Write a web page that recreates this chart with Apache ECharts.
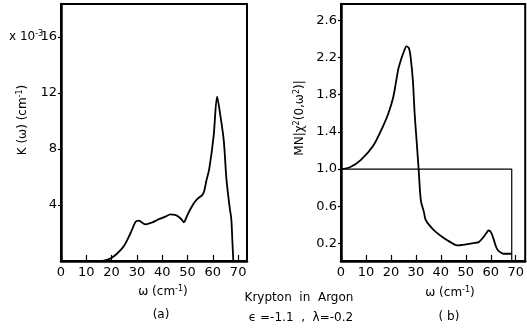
<!DOCTYPE html>
<html>
<head>
<meta charset="utf-8">
<script src="https://cdn.jsdelivr.net/npm/echarts@6/dist/echarts.min.js"></script>
<style>
  html, body { margin: 0; padding: 0; background: #fff; }
  #chart { width: 527px; height: 332px; }
</style>
</head>
<body>
<div id="chart"></div>
<script>
// Panel (a): absorption coefficient K(ω), in units of 1e-3 cm^-1
const omegaA = [15, 17, 19.6, 22, 24.8, 27.5, 29.5, 30.8, 32, 33.4, 36, 38, 41, 43.3, 45, 46.2, 47.5, 48.6, 49.5, 50.6, 52.5, 54, 55.8, 56.6, 57.4, 58.6, 60.3, 61.7, 62.8, 64.3, 65.4, 66.7, 67.3, 67.7, 68.1];
const kA =     [0, 0.03, 0.19, 0.5, 1.05, 2.0, 2.8, 2.88, 2.75, 2.62, 2.75, 2.93, 3.15, 3.33, 3.3, 3.2, 3.0, 2.76, 3.1, 3.52, 4.12, 4.45, 4.71, 5.0, 5.7, 6.6, 8.9, 11.74, 10.6, 8.64, 5.8, 3.76, 3.0, 1.5, 0];

// Panel (b): MN|χ²(0,ω²)|
const omegaB = [0, 3.6, 8, 12.9, 17, 19, 20.9, 22, 23, 24.2, 25.3, 26.2, 27.2, 27.9, 28.8, 29.5, 30.3, 31.1, 32, 33.2, 34, 37, 40.6, 43.5, 46.5, 50, 53, 55.2, 57.1, 58.2, 59.1, 60.1, 61.1, 62.2, 63.1, 64.2, 65.1, 68.4];
const chiB =   [1.0, 1.02, 1.1, 1.25, 1.47, 1.6, 1.77, 1.93, 2.08, 2.19, 2.27, 2.32, 2.3, 2.2, 1.95, 1.6, 1.3, 1.0, 0.66, 0.54, 0.45, 0.35, 0.27, 0.22, 0.18, 0.19, 0.205, 0.215, 0.27, 0.31, 0.34, 0.32, 0.25, 0.16, 0.12, 0.1, 0.09, 0.09];

// Reference step: unity up to the cutoff frequency
const stepOmega = [0, 68.4, 68.4];
const stepValue = [1.0, 1.0, 0];

// Tick values
const xTicks = [0, 10, 20, 30, 40, 50, 60, 70];
const yTicksA = [4, 8, 12, 16];
const yTicksB = [0.2, 0.6, 1.0, 1.4, 1.8, 2.2, 2.6];

const FONT = 'DejaVu Sans';
const black = '#000';

function pairs(xs, ys) { return xs.map((x, i) => [x, ys[i]]); }

function xAxisCfg(gridIndex, max) {
  return {
    type: 'value', gridIndex, min: 0, max,
    axisLine: { show: true, lineStyle: { color: black, width: 2.5 } },
    axisTick: { show: true, inside: true, length: 6, customValues: xTicks, lineStyle: { color: black, width: 1.2 } },
    axisLabel: { customValues: xTicks, color: black, fontFamily: FONT, fontSize: 13, margin: 5 },
    splitLine: { show: false }
  };
}

function yAxisCfg(gridIndex, min, max, ticks, fmt) {
  return {
    type: 'value', gridIndex, min, max,
    axisLine: { show: true, lineStyle: { color: black, width: 2.5 } },
    axisTick: { show: true, inside: false, length: 3, customValues: ticks, lineStyle: { color: black, width: 1.2 } },
    axisLabel: { customValues: ticks, color: black, fontFamily: FONT, fontSize: 13, margin: 4, formatter: fmt },
    splitLine: { show: false }
  };
}

const supRich = {
  n: { fontFamily: FONT, fontSize: 12, color: black },
  s: { fontFamily: FONT, fontSize: 8, color: black, verticalAlign: 'top', padding: [0, 0, 6, 0] }
};

const chart = echarts.init(document.getElementById('chart'), null, { renderer: 'canvas' });

chart.setOption({
  backgroundColor: '#fff',
  animation: false,
  grid: [
    { left: 61, top: 4, width: 186, height: 257, show: true, borderColor: black, borderWidth: 2, backgroundColor: 'transparent' },
    { left: 341, top: 4, width: 185, height: 257, show: true, borderColor: black, borderWidth: 2, backgroundColor: 'transparent' }
  ],
  xAxis: [ xAxisCfg(0, 73.5), xAxisCfg(1, 73.8) ],
  yAxis: [
    yAxisCfg(0, 0, 18.36, yTicksA, v => String(v)),
    yAxisCfg(1, 0.012, 2.775, yTicksB, v => v.toFixed(1))
  ],
  series: [
    {
      type: 'line', xAxisIndex: 0, yAxisIndex: 0, data: pairs(omegaA, kA),
      showSymbol: false, smooth: 0.3, lineStyle: { color: black, width: 1.8 }
    },
    {
      type: 'line', xAxisIndex: 1, yAxisIndex: 1, data: pairs(omegaB, chiB),
      showSymbol: false, smooth: 0.3, lineStyle: { color: black, width: 1.8 }
    },
    {
      type: 'line', xAxisIndex: 1, yAxisIndex: 1, data: pairs(stepOmega, stepValue),
      showSymbol: false, smooth: false, lineStyle: { color: black, width: 1.2 }
    }
  ],
  graphic: [
    // scale factor next to the top tick of panel (a)
    { type: 'text', left: 9, top: 30, style: { text: '{n|x 10}{s|-3}', rich: supRich } },
    // y-axis title, panel (a)
    { type: 'text', x: 23, y: 120, rotation: Math.PI / 2,
      style: { text: '{n|K (ω) (cm}{s|-1}{n|)}', rich: supRich, align: 'center', verticalAlign: 'middle' } },
    // y-axis title, panel (b)
    { type: 'text', x: 300, y: 118, rotation: Math.PI / 2,
      style: { text: '{n|MN|χ}{s|2}{n|(0,ω}{s|2}{n|)|}', rich: supRich, align: 'center', verticalAlign: 'middle' } },
    // x-axis titles
    { type: 'text', x: 163, y: 292,
      style: { text: '{n|ω (cm}{s|-1}{n|)}', rich: supRich, align: 'center', verticalAlign: 'middle' } },
    { type: 'text', x: 450, y: 293,
      style: { text: '{n|ω (cm}{s|-1}{n|)}', rich: supRich, align: 'center', verticalAlign: 'middle' } },
    // panel tags
    { type: 'text', x: 161, y: 315, style: { text: '(a)', fontFamily: FONT, fontSize: 12, fill: black, align: 'center', verticalAlign: 'middle' } },
    { type: 'text', x: 449, y: 317, style: { text: '( b)', fontFamily: FONT, fontSize: 12, fill: black, align: 'center', verticalAlign: 'middle' } },
    // system and parameters
    { type: 'text', x: 299, y: 298, style: { text: 'Krypton  in  Argon', fontFamily: FONT, fontSize: 12, fill: black, align: 'center', verticalAlign: 'middle' } },
    { type: 'text', x: 301, y: 318, style: { text: 'ϵ =-1.1  ,  λ=-0.2', fontFamily: FONT, fontSize: 12, fill: black, align: 'center', verticalAlign: 'middle' } }
  ]
});
</script>
</body>
</html>
